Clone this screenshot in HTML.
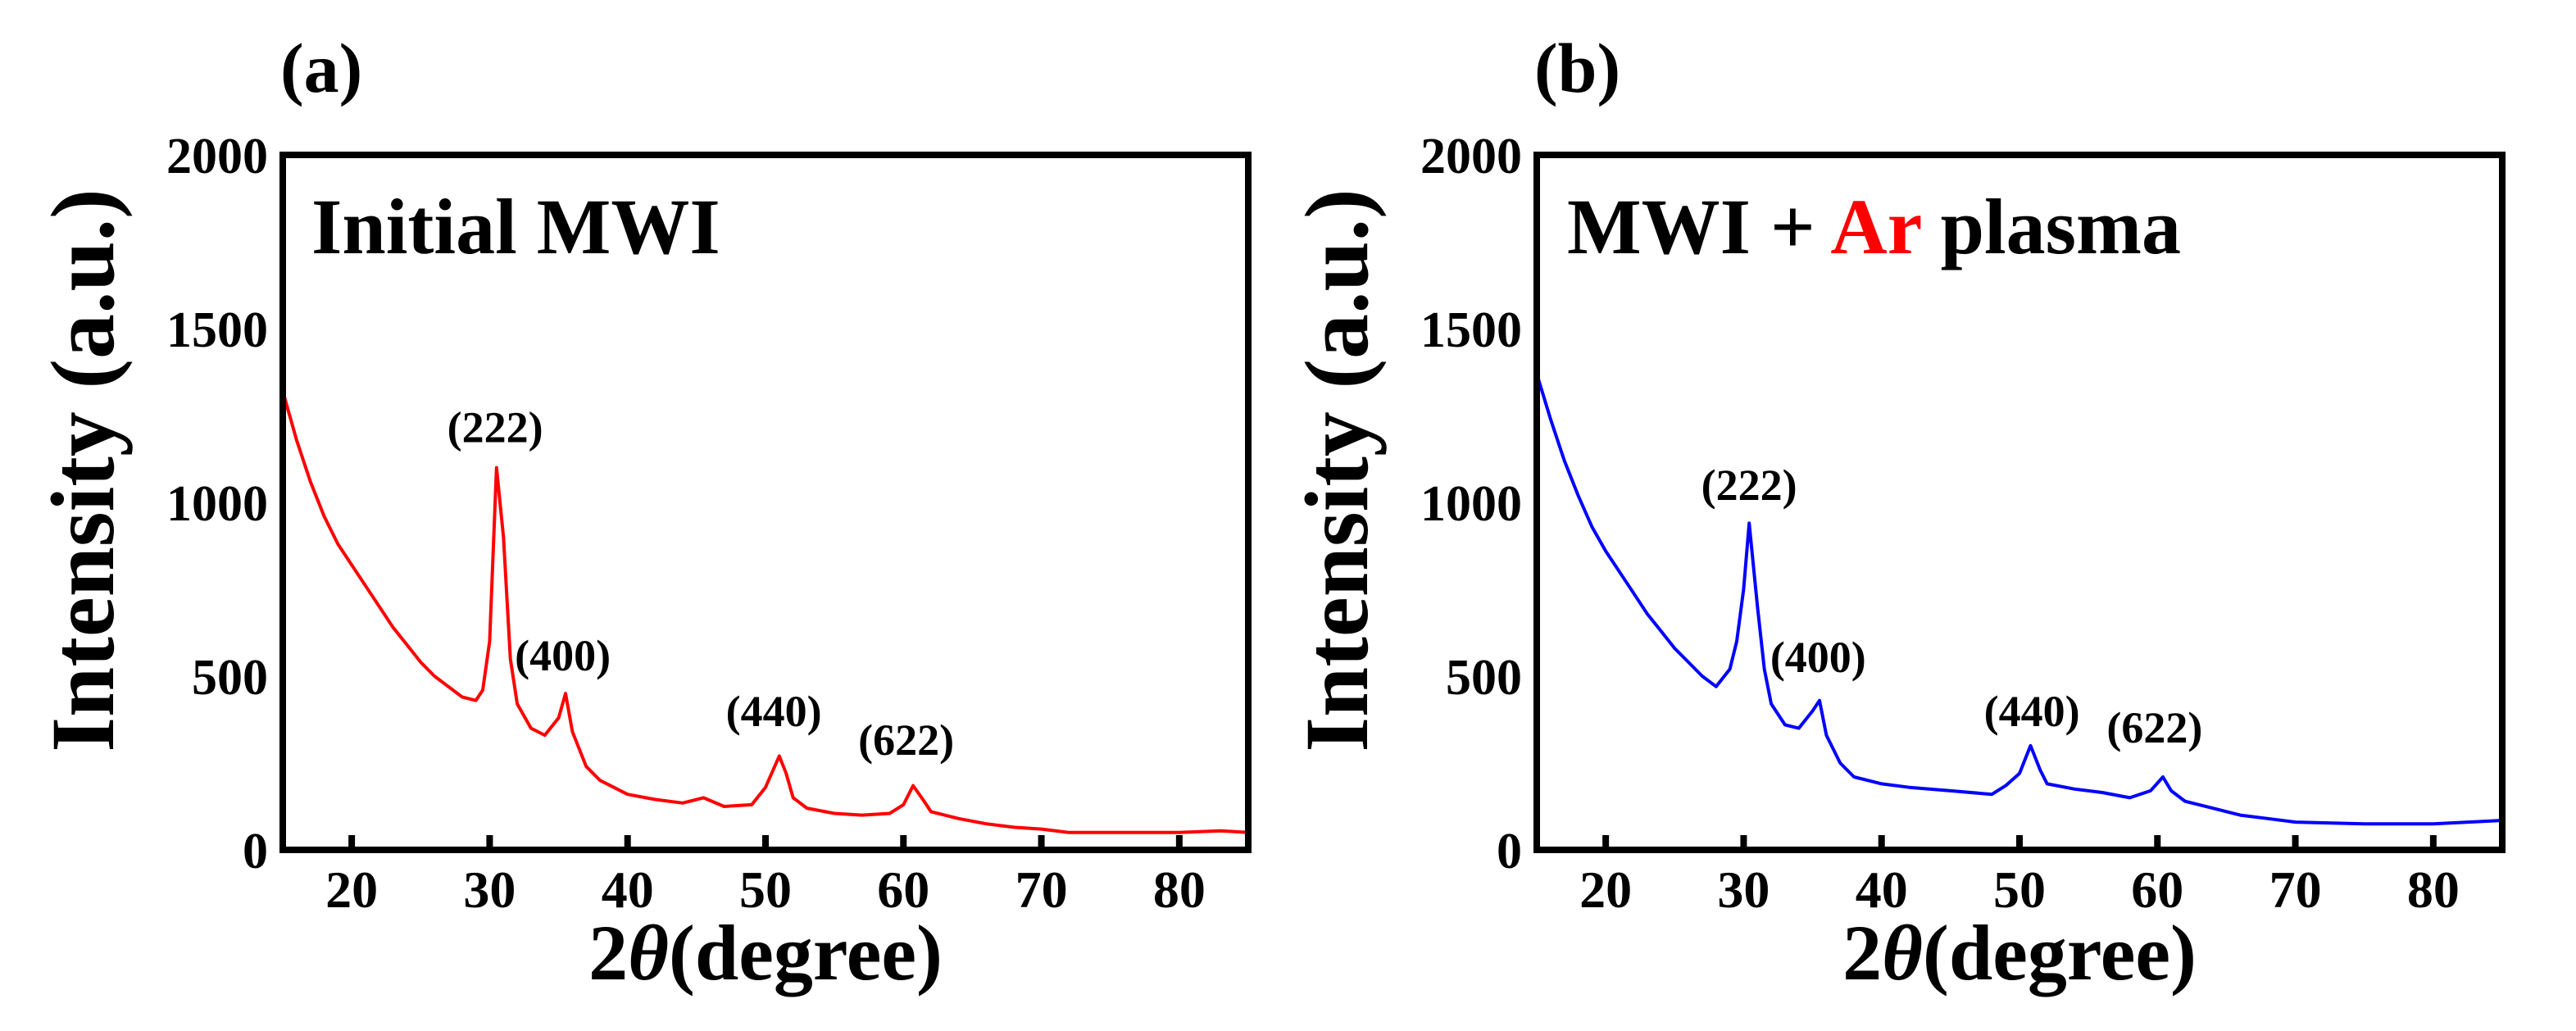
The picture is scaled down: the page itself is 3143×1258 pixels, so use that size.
<!DOCTYPE html>
<html><head><meta charset="utf-8"><style>
html,body{margin:0;padding:0;background:#fff}
svg{display:block}
text{font-family:"Liberation Serif",serif;font-weight:bold;fill:#000}
</style></head><body>
<svg id="fig" width="3143" height="1258" viewBox="0 0 3143 1258" xmlns="http://www.w3.org/2000/svg"></svg>
<script>
const xTicks = [20, 30, 40, 50, 60, 70, 80];
const yTicks = [0, 500, 1000, 1500, 2000];
const xA = [15,16,17,18,19,20,21,22,23,24,25,26,27,28,29,29.5,30,30.5,31,31.5,32,33,34,35,35.5,36,37,38,39,40,42,44,45.5,47,49,50,51,51.5,52,53,55,57,59,60,60.7,61.5,62,64,66,68,70,72,75,80,83,85];
const yA = [1320,1180,1060,960,880,820,760,700,640,590,540,500,470,440,430,460,600,1100,900,550,420,350,330,380,450,340,240,200,180,160,145,135,150,125,130,180,270,220,150,120,105,100,105,130,185,140,110,90,75,65,60,50,50,50,55,50];
const xB = [15,16,17,18,19,20,21,22,23,24,25,26,27,28,29,29.5,30,30.4,31,31.5,32,33,34,35,35.5,36,37,38,40,42,45,48,49,50,50.8,51.5,52,54,56,58,59.5,60.4,61,62,64,66,68,70,75,80,85];
const yB = [1370,1240,1120,1020,930,860,800,740,680,630,580,540,500,470,520,600,750,940,700,520,420,360,350,400,430,330,250,210,190,180,170,160,185,220,300,230,190,175,165,150,170,210,170,140,120,100,90,80,75,75,85];
const peakLabels = ["(222)", "(400)", "(440)", "(622)"];
const peakXA = [30.4, 35.3, 50.6, 60.2];
const peakYA = [1150, 493, 333, 250];
const peakXB = [30.4, 35.4, 50.9, 59.8];
const peakYB = [983, 488, 333, 285];

const NS = "http://www.w3.org/2000/svg";
const svg = document.getElementById("fig");
function mk(tag, attrs, parent){const e=document.createElementNS(NS,tag);for(const k in attrs)e.setAttribute(k,attrs[k]);(parent||svg).appendChild(e);return e;}
const X0=15,X1=85,Y0=0,Y1=2000,W=1178,T=189,B=1037;

function panel(left, xs, ys, color, letter, pX, pY, id){
  const sx=v=>left+(v-X0)*W/(X1-X0);
  const sy=v=>B-(v-Y0)*(B-T)/(Y1-Y0);
  const g=mk("g",{});
  
  
  const cp=mk("clipPath",{id:"clip"+id},g);
  mk("rect",{x:left,y:T,width:W,height:B-T},cp);
  let d="";
  xs.forEach((x,i)=>{d+=(i?"L":"M")+sx(x).toFixed(1)+","+sy(ys[i]).toFixed(1);});
  const line=mk("path",{d:d,fill:"none",stroke:color,"stroke-width":4,"stroke-linejoin":"round","clip-path":"url(#clip"+id+")"},g);
  
  
  xTicks.forEach(t=>{
    const tk=mk("line",{x1:sx(t),x2:sx(t),y1:B,y2:B-18,stroke:"#000","stroke-width":8},g);
    
    
    const tl=mk("text",{x:sx(t),y:1107,"font-size":64,"text-anchor":"middle"},g);
    tl.textContent=t;
    
    
  });
  yTicks.forEach(t=>{
    const tl=mk("text",{x:left-18,y:sy(t)+22,"font-size":62,"text-anchor":"end"},g);
    tl.textContent=t;
    
    
  });
  const fr=mk("rect",{x:left,y:T,width:W,height:B-T,fill:"none",stroke:"#000","stroke-width":8},g);
  
  
  peakLabels.forEach((p,i)=>{
    const pl=mk("text",{x:sx(pX[i]),y:sy(pY[i])-10,"font-size":54,"text-anchor":"middle"},g);
    pl.textContent=p;
    
    
  });
  const yt=mk("text",{x:0,y:0,"font-size":110,"text-anchor":"middle",transform:"translate("+(left-207)+",574) rotate(-90)"},g);
  yt.textContent="Intensity (a.u.)";
  
  
  const xt=mk("text",{x:left+W/2,y:1195,"font-size":96,"text-anchor":"middle"},g);
  xt.innerHTML='2<tspan font-style="italic">θ</tspan>(degree)';
  
  
  const pl=mk("text",{x:left-3,y:112,"font-size":86},g);
  pl.textContent="("+letter+")";
  
  
  return g;
}
panel(345,xA,yA,"#ff0000","a",peakXA,peakYA,"a");
panel(1875,xB,yB,"#0000ff","b",peakXB,peakYB,"b");
const ta=mk("text",{x:380,y:309,"font-size":96});
ta.textContent="Initial MWI";


const tb=mk("text",{x:1912,y:309,"font-size":96});
tb.innerHTML='MWI + <tspan fill="#ff0000">Ar</tspan> plasma';


</script>
</body></html>
